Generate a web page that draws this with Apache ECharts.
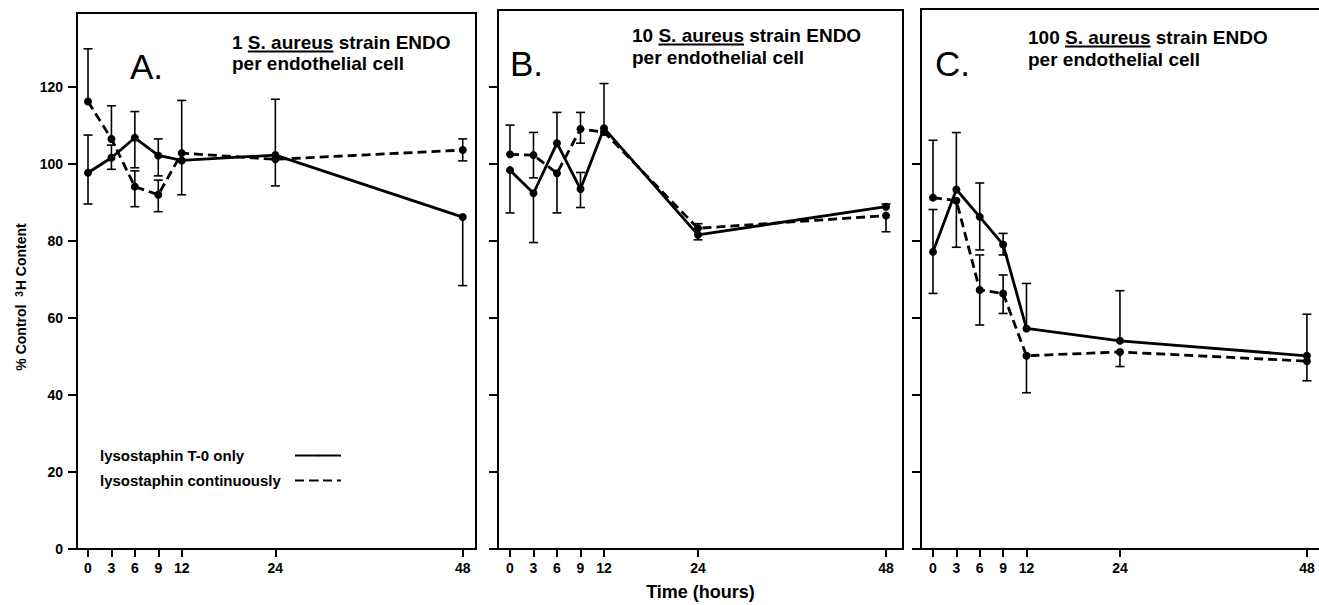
<!DOCTYPE html>
<html>
<head>
<meta charset="utf-8">
<script src="https://cdn.jsdelivr.net/npm/echarts@6/dist/echarts.min.js"></script>
<style>
  html, body { margin: 0; padding: 0; background: #fff; }
  #chart { width: 1319px; height: 605px; }
</style>
</head>
<body>
<div id="chart"></div>
<script>
// sampling times (hours)
var times = [0, 3, 6, 9, 12, 24, 48];
var xTicks = [0, 3, 6, 9, 12, 24, 48];
var yTicks = [0, 20, 40, 60, 80, 100, 120];
var yTicksC = [0, 20, 40, 60, 80, 100];

var seriesNames = ['lysostaphin T-0 only', 'lysostaphin continuously'];

// panel A: 1 S. aureus per endothelial cell
var aT0Mean = [97.7, 101.6, 106.8, 102.2, 100.9, 102.3, 86.2];
var aT0Low = [89.6, 98.6, 99.0, 96.9, 92.0, null, 68.4];
var aT0High = [107.5, 104.9, 113.6, 106.5, null, 116.8, null];
var aContMean = [116.2, 106.5, 94.1, 92.0, 102.8, 101.2, 103.6];
var aContLow = [null, null, 88.9, 87.6, null, 94.3, 100.8];
var aContHigh = [129.9, 115.1, 98.2, 95.8, 116.5, null, 106.5];

// panel B: 10 per cell
var bT0Mean = [98.4, 92.4, 105.4, 93.5, 109.3, 81.6, 88.9];
var bT0Low = [87.3, 79.6, null, 88.7, null, 80.3, null];
var bT0High = [null, null, 113.4, 97.8, 120.9, null, 89.6];
var bContMean = [102.5, 102.3, 97.6, 109.1, 108.3, 83.3, 86.6];
var bContLow = [null, 96.4, 87.3, 105.4, null, null, 82.4];
var bContHigh = [110.1, 108.2, null, 113.4, null, 84.5, null];

// panel C: 100 per cell
var cT0Mean = [77.2, 93.4, 86.3, 79.1, 57.3, 54.1, 50.2];
var cT0Low = [66.4, null, 77.7, 76.4, null, null, null];
var cT0High = [88.2, 108.2, 95.1, 82.0, 69.0, 67.1, 61.0];
var cContMean = [91.3, 90.5, 67.3, 66.4, 50.2, 51.2, 48.8];
var cContLow = [null, 78.4, 58.2, 61.2, 40.6, 47.4, 43.7];
var cContHigh = [106.2, null, 76.4, 71.2, null, null, null];

var FONT = '"Liberation Sans", Arial, sans-serif';
var DASH = [9, 5];

function lineData(mean) {
  var d = [];
  for (var i = 0; i < times.length; i++) {
    d.push([times[i], mean[i]]);
  }
  return d;
}

function errData(mean, low, high) {
  var d = [];
  for (var i = 0; i < times.length; i++) {
    d.push([times[i], mean[i], low[i], high[i]]);
  }
  return d;
}

function renderErrorBar(params, api) {
  var x = api.value(0);
  var mid = api.coord([x, api.value(1)]);
  var ends = [api.value(2), api.value(3)];
  var children = [];
  var cap = 4.5;
  for (var i = 0; i < ends.length; i++) {
    var v = ends[i];
    if (v == null || isNaN(v)) continue;
    var p = api.coord([x, v]);
    children.push({
      type: 'line',
      shape: { x1: mid[0], y1: mid[1], x2: p[0], y2: p[1] },
      style: { stroke: '#000', lineWidth: 1.6 }
    });
    children.push({
      type: 'line',
      shape: { x1: p[0] - cap, y1: p[1], x2: p[0] + cap, y2: p[1] },
      style: { stroke: '#000', lineWidth: 1.6 }
    });
  }
  return { type: 'group', children: children };
}

function makeSeries(idx, t0Mean, t0Low, t0High, contMean, contLow, contHigh) {
  return [
    {
      name: 'err-t0-' + idx,
      type: 'custom',
      xAxisIndex: idx,
      yAxisIndex: idx,
      renderItem: renderErrorBar,
      encode: { x: 0, y: 1 },
      data: errData(t0Mean, t0Low, t0High),
      silent: true,
      z: 2
    },
    {
      name: 'err-cont-' + idx,
      type: 'custom',
      xAxisIndex: idx,
      yAxisIndex: idx,
      renderItem: renderErrorBar,
      encode: { x: 0, y: 1 },
      data: errData(contMean, contLow, contHigh),
      silent: true,
      z: 2
    },
    {
      name: seriesNames[0],
      type: 'line',
      xAxisIndex: idx,
      yAxisIndex: idx,
      data: lineData(t0Mean),
      symbol: 'circle',
      symbolSize: 8,
      itemStyle: { color: '#000' },
      lineStyle: { color: '#000', width: 2.8, type: 'solid' },
      silent: true,
      z: 3
    },
    {
      name: seriesNames[1],
      type: 'line',
      xAxisIndex: idx,
      yAxisIndex: idx,
      data: lineData(contMean),
      symbol: 'circle',
      symbolSize: 8,
      itemStyle: { color: '#000' },
      lineStyle: { color: '#000', width: 2.8, type: DASH },
      silent: true,
      z: 3
    }
  ];
}

function xAxisFor(idx, min, max, withName) {
  var ax = {
    type: 'value',
    gridIndex: idx,
    min: min,
    max: max,
    axisLine: { show: true, onZero: false, lineStyle: { color: '#000', width: 2 } },
    axisTick: { show: true, inside: false, length: 8, customValues: xTicks, lineStyle: { color: '#000', width: 2 } },
    axisLabel: { show: true, customValues: xTicks, margin: 12, color: '#000', fontWeight: 'bold', fontSize: 14, fontFamily: FONT },
    splitLine: { show: false }
  };
  if (withName) {
    ax.name = 'Time (hours)';
    ax.nameLocation = 'middle';
    ax.nameGap = 34;
    ax.nameTextStyle = { color: '#000', fontWeight: 'bold', fontSize: 18, fontFamily: FONT };
  }
  return ax;
}

function yAxisFor(idx, max, ticks, showLabels) {
  return {
    type: 'value',
    gridIndex: idx,
    min: 0,
    max: max,
    axisLine: { show: true, onZero: false, lineStyle: { color: '#000', width: 2 } },
    axisTick: { show: true, inside: false, length: 9, customValues: ticks, lineStyle: { color: '#000', width: 2 } },
    axisLabel: { show: showLabels, customValues: ticks, margin: 14, color: '#000', fontWeight: 'bold', fontSize: 14, fontFamily: FONT },
    splitLine: { show: false }
  };
}

// measure text for the underlines under "S. aureus"
var measureCtx = document.createElement('canvas').getContext('2d');
function textWidth(str, font) {
  measureCtx.font = font;
  return measureCtx.measureText(str).width;
}

var TITLE_FS = 19;
var TITLE_FONT = 'bold ' + TITLE_FS + 'px ' + FONT;

function panelTitle(letter, lx, ly, count, tx, base1, base2) {
  var prefix = count + ' ';
  var x0 = tx + textWidth(prefix, TITLE_FONT);
  var w = textWidth('S. aureus', TITLE_FONT);
  var uy = base1 + 2.5;
  return [
    {
      type: 'text', x: lx, y: ly,
      style: { text: letter, font: '35px ' + FONT, fill: '#000', align: 'left', verticalAlign: 'middle' }
    },
    {
      type: 'text', x: tx, y: base1 - 6.6,
      style: { text: count + ' S. aureus strain ENDO', font: TITLE_FONT, fill: '#000', align: 'left', verticalAlign: 'middle' }
    },
    {
      type: 'text', x: tx, y: base2 - 6.6,
      style: { text: 'per endothelial cell', font: TITLE_FONT, fill: '#000', align: 'left', verticalAlign: 'middle' }
    },
    {
      type: 'line',
      shape: { x1: x0, y1: uy, x2: x0 + w, y2: uy },
      style: { stroke: '#000', lineWidth: 1.8 }
    }
  ];
}

var chart = echarts.init(document.getElementById('chart'), null, { renderer: 'svg' });

var graphics = []
  .concat(panelTitle('A.', 130, 66, 1, 232, 49, 70))
  .concat(panelTitle('B.', 510, 63, 10, 632, 42, 64))
  .concat(panelTitle('C.', 935, 63, 100, 1028, 44, 66));

graphics.push({
  type: 'text',
  x: 21,
  y: 297,
  rotation: Math.PI / 2,
  style: {
    text: '{t|% Control  }{s|3}{t|H Content}',
    align: 'center',
    verticalAlign: 'middle',
    rich: {
      t: { fontSize: 14, fontWeight: 'bold', fontFamily: FONT, fill: '#000', color: '#000' },
      s: { fontSize: 10, fontWeight: 'bold', fontFamily: FONT, fill: '#000', color: '#000', verticalAlign: 'top', padding: [0, 1, 0, 0] }
    }
  }
});

var option = {
  backgroundColor: '#fff',
  animation: false,
  grid: [
    { left: 77, top: 13, width: 399, height: 536, show: true, borderColor: '#000', borderWidth: 2, backgroundColor: 'transparent', containLabel: false, outerBoundsMode: 'none' },
    { left: 498, top: 10, width: 405, height: 539, show: true, borderColor: '#000', borderWidth: 2, backgroundColor: 'transparent', containLabel: false, outerBoundsMode: 'none' },
    { left: 921, top: 9, width: 405, height: 540, show: true, borderColor: '#000', borderWidth: 2, backgroundColor: 'transparent', containLabel: false, outerBoundsMode: 'none' }
  ],
  xAxis: [
    xAxisFor(0, -1.41, 49.7, false),
    xAxisFor(1, -1.53, 50.17, true),
    xAxisFor(2, -1.54, 50.45, false)
  ],
  yAxis: [
    yAxisFor(0, 139.2, yTicks, true),
    yAxisFor(1, 140, yTicks, false),
    yAxisFor(2, 140.3, yTicksC, false)
  ],
  legend: {
    data: seriesNames,
    orient: 'vertical',
    left: 95,
    top: 443,
    align: 'right',
    itemWidth: 46,
    itemHeight: 2,
    itemGap: 10,
    selectedMode: false,
    formatter: function (name) {
      return '{a|' + name + '}';
    },
    textStyle: {
      color: '#000',
      fontWeight: 'bold',
      fontSize: 15,
      fontFamily: FONT,
      rich: {
        a: { width: 190, align: 'left', color: '#000', fontWeight: 'bold', fontSize: 15, fontFamily: FONT }
      }
    }
  },
  graphic: graphics,
  series: []
    .concat(makeSeries(0, aT0Mean, aT0Low, aT0High, aContMean, aContLow, aContHigh))
    .concat(makeSeries(1, bT0Mean, bT0Low, bT0High, bContMean, bContLow, bContHigh))
    .concat(makeSeries(2, cT0Mean, cT0Low, cT0High, cContMean, cContLow, cContHigh))
};

chart.setOption(option);
</script>
</body>
</html>
